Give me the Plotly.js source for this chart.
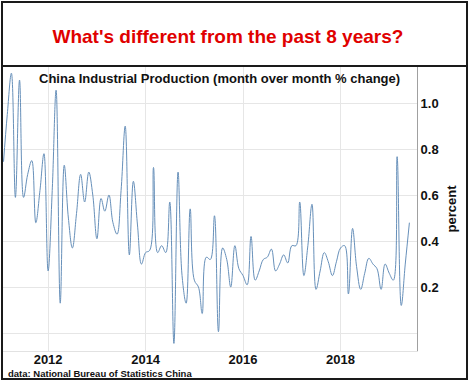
<!DOCTYPE html>
<html>
<head>
<meta charset="utf-8">
<script src="https://cdn.plot.ly/plotly-3.0.1.min.js"></script>
<style>
html,body{margin:0;padding:0;background:#fff;}
#chart{width:469px;height:383px;}
</style>
</head>
<body>
<div id="chart"></div>
<script>
// China industrial production, month over month % change
const firstMonth2011 = 2; // series starts in February 2011
const v2011 = [0.745, 0.95, 1.13, 0.59, 1.10, 0.59, 0.69, 0.75, 0.48, 0.62, 0.78];
const v2012 = [0.27, 0.62, 1.056, 0.13, 0.73, 0.50, 0.37, 0.52, 0.69, 0.57, 0.70, 0.60];
const v2013 = [0.41, 0.585, 0.53, 0.60, 0.48, 0.43, 0.62, 0.90, 0.34, 0.66, 0.47, 0.30];
const v2014 = [0.35, 0.36, 0.72, 0.35, 0.38, 0.35, 0.57, -0.045, 0.70, 0.25, 0.13, 0.54];
const v2015 = [0.23, 0.20, 0.085, 0.33, 0.32, 0.51, 0.006, 0.37, 0.32, 0.20, 0.38, 0.28];
const v2016 = [0.25, 0.21, 0.42, 0.23, 0.27, 0.32, 0.33, 0.365, 0.27, 0.30, 0.34, 0.305];
const v2017 = [0.38, 0.38, 0.57, 0.25, 0.38, 0.56, 0.19, 0.27, 0.35, 0.31, 0.25, 0.31];
const v2018 = [0.37, 0.38, 0.17, 0.455, 0.29, 0.19, 0.26, 0.325, 0.30, 0.28, 0.19, 0.30];
const v2019 = [0.26, 0.23, 0.767, 0.12, 0.30, 0.48];

const yearSeries = [
  [2011, v2011], [2012, v2012], [2013, v2013], [2014, v2014], [2015, v2015],
  [2016, v2016], [2017, v2017], [2018, v2018], [2019, v2019]
];

const tickYears = ['2012', '2014', '2016', '2018'];
const yTickVals = [0.2, 0.4, 0.6, 0.8, 1.0];
const yTickText = ['0.2', '0.4', '0.6', '0.8', '1.0'];

const titleText = "What's different from the past 8 years?";
const subtitleText = 'China Industrial Production (month over month % change)';
const sourceText = 'data: National Bureau of Statistics China';
const yTitleText = 'percent';

const xDates = [];
const yVals = [];
yearSeries.forEach(([yr, vals]) => {
  const m0 = yr === 2011 ? firstMonth2011 : 1;
  vals.forEach((v, i) => {
    const mm = String(m0 + i).padStart(2, '0');
    xDates.push(yr + '-' + mm + '-01');
    yVals.push(v);
  });
});

const FONT = 'Liberation Sans, Arial, Helvetica, sans-serif';

const trace = {
  type: 'scatter',
  mode: 'lines',
  x: xDates,
  y: yVals,
  line: {color: '#6790ba', width: 1, shape: 'spline', smoothing: 1.1},
  hoverinfo: 'skip',
  showlegend: false
};

const layout = {
  width: 469,
  height: 383,
  margin: {l: 3, r: 52, t: 67, b: 32, pad: 0},
  paper_bgcolor: '#ffffff',
  plot_bgcolor: '#ffffff',
  font: {family: FONT, color: '#111111'},
  showlegend: false,
  title: {
    text: titleText,
    font: {family: FONT, size: 19, color: '#e00000', weight: 'bold'},
    x: 0.486, xanchor: 'center', xref: 'container',
    y: 0.906, yanchor: 'middle', yref: 'container'
  },
  xaxis: {
    type: 'date',
    range: ['2011-01-28', '2019-07-28'],
    tickmode: 'array',
    tickvals: tickYears.map(y => y + '-01-01'),
    ticktext: tickYears,
    ticks: '',
    ticklabelstandoff: -4,
    showgrid: true,
    gridcolor: '#e6e6e6',
    gridwidth: 1,
    zeroline: false,
    showline: true,
    linecolor: '#e2e2e2',
    linewidth: 1,
    tickfont: {family: FONT, size: 13, color: '#111111', weight: 'bold'},
    fixedrange: true
  },
  yaxis: {
    side: 'right',
    range: [-0.078, 1.157],
    tickmode: 'array',
    tickvals: yTickVals,
    ticktext: yTickText,
    ticks: '',
    showgrid: true,
    gridcolor: '#e6e6e6',
    gridwidth: 1,
    zeroline: true,
    zerolinecolor: '#e6e6e6',
    zerolinewidth: 1,
    showline: true,
    linecolor: '#a0a0a0',
    linewidth: 1,
    tickfont: {family: FONT, size: 13, color: '#111111', weight: 'bold'},
    title: {text: yTitleText, font: {family: FONT, size: 13, color: '#111111', weight: 'bold'}, standoff: 8},
    fixedrange: true
  },
  annotations: [
    {
      text: subtitleText,
      xref: 'paper', yref: 'paper',
      x: 0.524, y: 0.958, xanchor: 'center', yanchor: 'middle',
      showarrow: false,
      font: {family: FONT, size: 13, color: '#111111', weight: 'bold'}
    },
    {
      text: sourceText,
      xref: 'paper', yref: 'paper',
      x: 0.007, y: -0.0785, xanchor: 'left', yanchor: 'middle',
      showarrow: false,
      font: {family: FONT, size: 9.5, color: '#111111', weight: 'bold'}
    }
  ],
  shapes: [
    {type: 'rect', xref: 'paper', yref: 'paper',
     x0: -0.0024, x1: 1.1208, y0: -0.0986, y1: 1.2289,
     line: {color: '#1a1a1a', width: 2}, fillcolor: 'rgba(0,0,0,0)', layer: 'above'},
    {type: 'line', xref: 'paper', yref: 'paper',
     x0: -0.0024, x1: 1.1208, y0: 1.0035, y1: 1.0035,
     line: {color: '#1a1a1a', width: 2}, layer: 'above'}
  ]
};

Plotly.newPlot('chart', [trace], layout, {staticPlot: true, displayModeBar: false});
</script>
</body>
</html>
